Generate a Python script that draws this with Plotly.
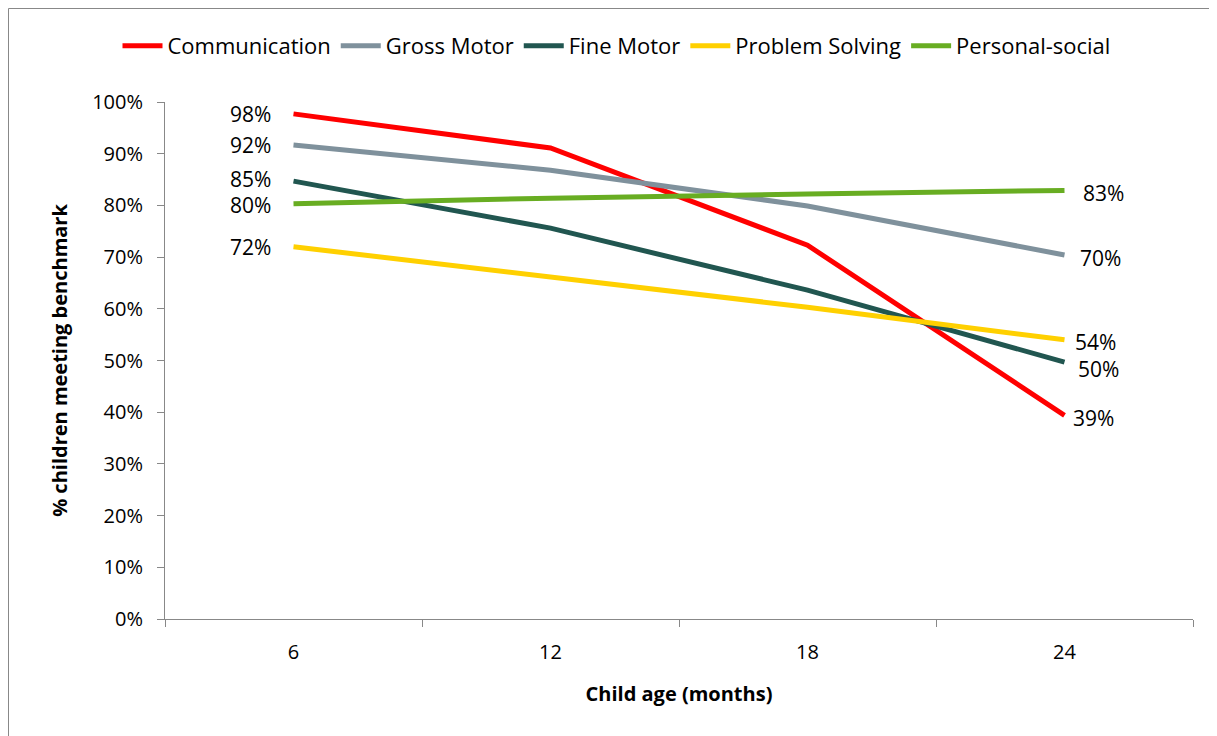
import plotly.graph_objects as go

ages = ["6", "12", "18", "24"]
series_names = ["Communication", "Gross Motor", "Fine Motor", "Problem Solving", "Personal-social"]
communication = [0.977, 0.911, 0.723, 0.394]
gross_motor = [0.917, 0.868, 0.799, 0.704]
fine_motor = [0.847, 0.756, 0.636, 0.497]
problem_solving = [0.720, 0.661, 0.603, 0.540]
personal_social = [0.803, 0.814, 0.822, 0.829]
left_labels = ["98%", "92%", "85%", "72%", "80%"]
right_labels = ["39%", "70%", "50%", "54%", "83%"]

values = [communication, gross_motor, fine_motor, problem_solving, personal_social]
colors = ["#FF0000", "#7F919C", "#215650", "#FFD000", "#68AD22"]
left_yshift = [0, 0, 2, 0, -1]
right_yshift = [-3, -3, -7, -2, -3]
right_xshift = [7, 14, 12, 9, 17]

FONT = "'Open Sans', Lato, sans-serif"

fig = go.Figure()
for name, vals, col in zip(series_names, values, colors):
    fig.add_trace(go.Scatter(x=ages, y=vals, name=name, mode="lines",
                             line=dict(color=col, width=5)))

first_idx = 0
last_idx = len(ages) - 1
annotations = []
for i, vals in enumerate(values):
    annotations.append(dict(x=first_idx, y=vals[0], text=left_labels[i], showarrow=False,
                            xanchor="right", xshift=-22, yshift=left_yshift[i], borderpad=0,
                            font=dict(size=21, color="#000000", family=FONT)))
    annotations.append(dict(x=last_idx, y=vals[-1], text=right_labels[i], showarrow=False,
                            xanchor="left", xshift=right_xshift[i], yshift=right_yshift[i], borderpad=0,
                            font=dict(size=21, color="#000000", family=FONT)))

L, T, PW, PH = 157, 94, 1028, 517
fig.update_layout(
    width=1217, height=736,
    margin=dict(l=L, r=1217 - L - PW, t=T, b=736 - T - PH),
    paper_bgcolor="white", plot_bgcolor="white",
    font=dict(family=FONT, size=20, color="#000000"),
    showlegend=True,
    legend=dict(orientation="h", x=0.5, xref="container", xanchor="center",
                y=1 - 38/736, yref="container", yanchor="middle",
                font=dict(size=22), itemwidth=40, tracegroupgap=0),
    annotations=annotations,
    shapes=[dict(type="rect", xref="paper", yref="paper",
                 x0=-L/PW + 0.5/PW, x1=(1217 - L)/PW, y0=-(736 - T - PH)/PH, y1=(PH + T - 0.5)/PH,
                 line=dict(color="#888888", width=1), fillcolor="rgba(0,0,0,0)", layer="below")],
)
fig.update_xaxes(type="category", range=[-0.5, len(ages) - 0.5],
                 tickson="boundaries", ticks="outside", ticklen=7,
                 tickcolor="#888888", showline=True, linecolor="#888888", linewidth=1,
                 showgrid=False, ticklabelstandoff=15,
                 tickfont=dict(size=20),
                 title=dict(text="<b>Child age (months)</b>", font=dict(size=20), standoff=22))
fig.update_yaxes(range=[0, 1.0], dtick=0.1, tickformat=".0%", ticks="outside", ticklen=7,
                 tickcolor="#888888", showline=True, linecolor="#888888", linewidth=1,
                 showgrid=False, zeroline=False, tickfont=dict(size=20), ticklabelstandoff=10,
                 title=dict(text="<b>% children meeting benchmark</b>", font=dict(size=20), standoff=19))

fig.write_html("out.html")
